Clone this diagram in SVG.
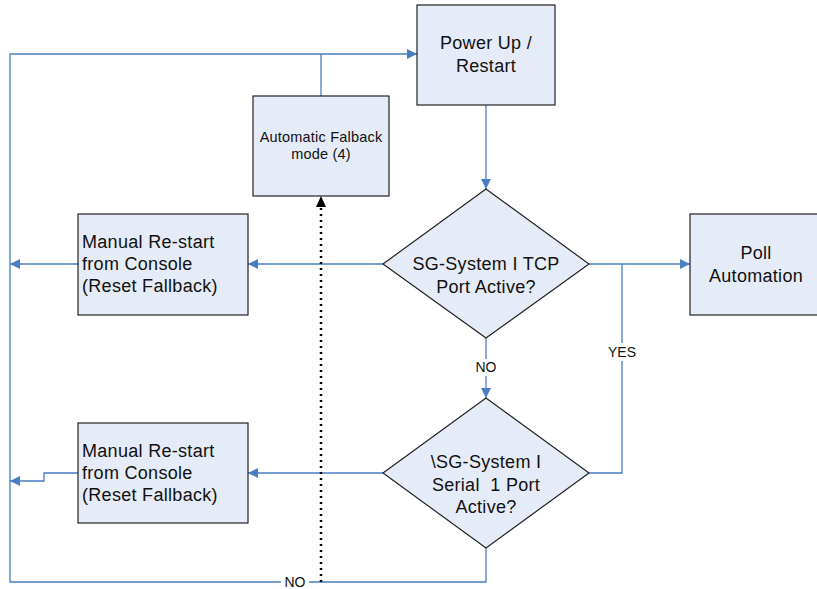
<svg xmlns="http://www.w3.org/2000/svg" width="817" height="589" viewBox="0 0 817 589">
<style>
.box{fill:#E6ECF7;stroke:#222;stroke-width:1.2}
.ln{fill:none;stroke:#4A7EC4;stroke-width:1.3}
.dot{fill:none;stroke:#000;stroke-width:2.5;stroke-dasharray:2 4}
text{font-family:"Liberation Sans",Arial,sans-serif;fill:#111}
.t18{font-size:18px;letter-spacing:0.3px}
.t14{font-size:14.5px;letter-spacing:0.2px}
.c{text-anchor:middle}
.lbl{font-size:14px;text-anchor:middle}
</style>
<defs>
<marker id="ab" viewBox="0 0 10 10" refX="10" refY="5" markerWidth="10" markerHeight="10" markerUnits="userSpaceOnUse" orient="auto"><path d="M0,0 L10,5 L0,10 z" fill="#4A7EC4"/></marker>
</defs>
<rect width="817" height="589" fill="#fff"/>
<g id="connectors">
<path class="ln" d="M486,105 V189" marker-end="url(#ab)"/>
<path class="ln" d="M486,338 V398" marker-end="url(#ab)"/>
<path class="ln" d="M589,264 H690" marker-end="url(#ab)"/>
<path class="ln" d="M589,473 H622 V264"/>
<path class="ln" d="M383,264 H248" marker-end="url(#ab)"/>
<path class="ln" d="M78,264 H10" marker-end="url(#ab)"/>
<path class="ln" d="M383,473 H248" marker-end="url(#ab)"/>
<path class="ln" d="M78,473 H44 V481 H10" marker-end="url(#ab)"/>
<path class="ln" d="M486,548 V582 H10 V54 H417" marker-end="url(#ab)"/>
<path class="ln" d="M321,96 V54"/>
<path class="dot" d="M321,582 V206"/>
<path d="M316,207 L321,196 L326,207 z" fill="#000"/>
<rect x="602" y="343" width="40" height="18" fill="#fff"/>
<text class="lbl" x="622" y="357">YES</text>
<rect x="472" y="359" width="28" height="17" fill="#fff"/>
<text class="lbl" x="486" y="372">NO</text>
<rect x="281" y="574" width="28" height="15" fill="#fff"/>
<text class="lbl" x="295" y="587">NO</text>
</g>
<g id="power-up">
<rect class="box" x="417" y="5" width="138" height="100"/>
<text class="t18 c" x="486" y="49">Power Up /</text>
<text class="t18 c" x="486" y="72">Restart</text>
</g>
<g id="auto-fallback">
<rect class="box" x="253" y="96" width="136" height="100"/>
<text class="t14 c" x="321" y="142">Automatic Falback</text>
<text class="t14 c" x="321" y="159">mode (4)</text>
</g>
<g id="tcp-decision">
<path class="box" d="M486,189 L589,264 L486,338 L383,264 z"/>
<text class="t18 c" x="486" y="270">SG-System I TCP</text>
<text class="t18 c" x="486" y="293">Port Active?</text>
</g>
<g id="poll-automation">
<rect class="box" x="690" y="214" width="132" height="101"/>
<text class="t18 c" x="756" y="259">Poll</text>
<text class="t18 c" x="756" y="282">Automation</text>
</g>
<g id="manual-restart-1">
<rect class="box" x="78" y="214" width="170" height="101"/>
<text class="t18" x="82" y="248">Manual Re-start</text>
<text class="t18" x="82" y="270">from Console</text>
<text class="t18" x="82" y="292">(Reset Fallback)</text>
</g>
<g id="serial-decision">
<path class="box" d="M486,398 L589,473 L486,548 L383,473 z"/>
<text class="t18 c" x="486" y="468">\SG-System I</text>
<text class="t18 c" x="486" y="491" xml:space="preserve">Serial  1 Port</text>
<text class="t18 c" x="486" y="513">Active?</text>
</g>
<g id="manual-restart-2">
<rect class="box" x="78" y="423" width="170" height="100"/>
<text class="t18" x="82" y="457">Manual Re-start</text>
<text class="t18" x="82" y="479">from Console</text>
<text class="t18" x="82" y="501">(Reset Fallback)</text>
</g>
</svg>
